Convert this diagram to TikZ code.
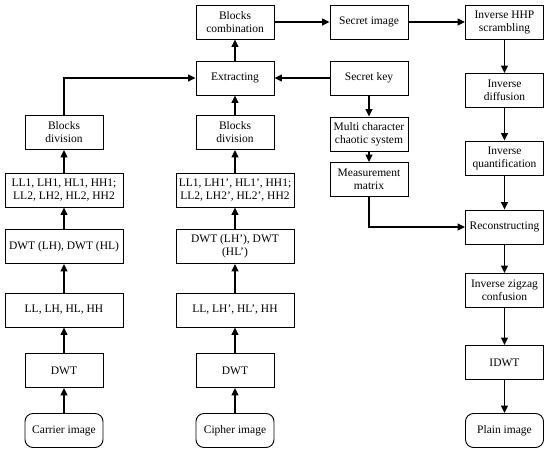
\documentclass[tikz,border=0pt]{standalone}
\usepackage{fontspec}
\setmainfont{Liberation Serif}
\usetikzlibrary{arrows.meta,positioning}

\begin{document}
\begin{tikzpicture}[x=1pt, y=-1pt, >={Triangle[length=7.5pt,width=7pt]},
  font=\fontsize{11.5}{13}\selectfont,
  box/.style={rectangle, draw, line width=0.9pt, minimum width=78pt, minimum height=34pt, align=center, inner sep=1pt},
  wbox/.style={box, minimum width=118pt},
  term/.style={box, rounded corners=8pt},
  flow/.style={->, line width=1.1pt}]
\useasboundingbox (0,0) rectangle (550,453);
% carrier column
\node[term] (carrier) at (64,430.5) {Carrier image};
\node[box] (dwtA) at (64,370.5) {DWT};
\node[wbox] (llA) at (64,310) {LL, LH, HL, HH};
\node[wbox] (dwtlhA) at (64,246.5) {DWT (LH), DWT (HL)};
\node[wbox] (subA) at (64,190) {LL1, LH1, HL1, HH1;\\ LL2, LH2, HL2, HH2};
\node[box] (divA) at (64,132.5) {Blocks\\ division};
% cipher column
\node[term] (cipher) at (235,430.5) {Cipher image};
\node[box] (dwtB) at (235,370.5) {DWT};
\node[wbox] (llB) at (235,310) {LL, LH', HL', HH};
\node[wbox] (dwtlhB) at (235,246.5) {DWT (LH'), DWT\\ (HL')};
\node[wbox] (subB) at (235,190) {LL1, LH1', HL1', HH1;\\ LL2, LH2', HL2', HH2};
\node[box] (divB) at (235,132.5) {Blocks\\ division};
\node[box] (extr) at (235,78) {Extracting};
\node[box] (comb) at (235,22) {Blocks\\ combination};
% key column
\node[box] (simg) at (369,22) {Secret image};
\node[box] (skey) at (369,78) {Secret key};
\node[box] (chaos) at (369,134) {Multi character\\ chaotic system};
\node[box] (meas) at (369,179.5) {Measurement\\ matrix};
% decryption column
\node[box] (hhp) at (504.5,22) {Inverse HHP\\ scrambling};
\node[box] (idiff) at (504.5,90.5) {Inverse\\ diffusion};
\node[box] (iquant) at (504.5,158) {Inverse\\ quantification};
\node[box] (recon) at (504.5,227) {Reconstructing};
\node[box] (zigzag) at (504.5,290.5) {Inverse zigzag\\ confusion};
\node[box] (idwt) at (504.5,362.5) {IDWT};
\node[term] (plain) at (504.5,430.5) {Plain image};
% arrows
\draw[flow] (carrier) -- (dwtA);
\draw[flow] (dwtA) -- (llA);
\draw[flow] (llA) -- (dwtlhA);
\draw[flow] (dwtlhA) -- (subA);
\draw[flow] (subA) -- (divA);
\draw[flow] (divA.north) |- (extr.west);
\draw[flow] (cipher) -- (dwtB);
\draw[flow] (dwtB) -- (llB);
\draw[flow] (llB) -- (dwtlhB);
\draw[flow] (dwtlhB) -- (subB);
\draw[flow] (subB) -- (divB);
\draw[flow] (divB) -- (extr);
\draw[flow] (skey) -- (extr);
\draw[flow] (extr) -- (comb);
\draw[flow] (comb) -- (simg);
\draw[flow] (simg) -- (hhp);
\draw[flow] (skey) -- (chaos);
\draw[flow] (chaos) -- (meas);
\draw[flow] (meas.south) |- (recon.west);
\draw[flow] (hhp) -- (idiff);
\draw[flow] (idiff) -- (iquant);
\draw[flow] (iquant) -- (recon);
\draw[flow] (recon) -- (zigzag);
\draw[flow] (zigzag) -- (idwt);
\draw[flow] (idwt) -- (plain);
\end{tikzpicture}
\end{document}
